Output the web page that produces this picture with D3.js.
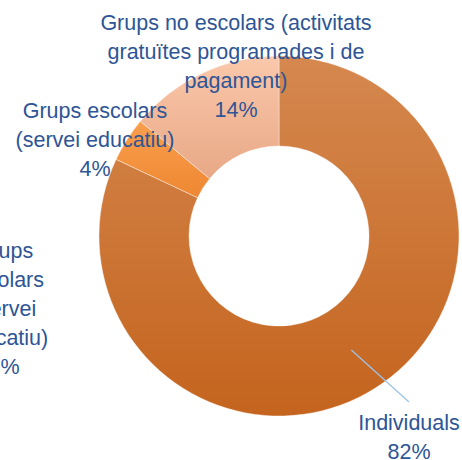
<!DOCTYPE html>
<html>
<head>
<meta charset="utf-8">
<script src="https://cdn.jsdelivr.net/npm/d3@7"></script>
<style>
  html, body { margin: 0; padding: 0; background: #fff; overflow: hidden; }
  svg { display: block; }
  text { font-family: "Liberation Sans", Arial, sans-serif; }
</style>
</head>
<body>
<svg id="chart"></svg>
<script>
const width = 462;
const height = 460;

// slices, clockwise from 12 o'clock
const categories = [
  "Individuals",
  "Grups escolars (servei educatiu)",
  "Grups no escolars (activitats gratuïtes programades i de pagament)"
];
const values = [82, 4, 14];
const labelLines = [
  ["Individuals"],
  ["Grups escolars", "(servei educatiu)"],
  ["Grups no escolars (activitats", "gratuïtes programades i de", "pagament)"]
];

// label of the neighbouring chart, cut by the left edge
const sideLines = ["Grups", "escolars", "(servei", "educatiu)"];
const sideValue = 3;

// colours: [top, bottom] of each slice gradient
const sliceColors = [
  ["#d5884f", "#c4641e"],
  ["#fa9f4e", "#ee8732"],
  ["#fac8ab", "#e8a886"]
];
const textColor = "#2e5595";
const lineHeight = 29;

// label anchors (x centre, first baseline)
const labelPos = [
  [409, 430],
  [95, 118],
  [236, 30]
];

const cx = 279, cy = 236;
const outerR = 180, innerR = 90;

const svg = d3.select("#chart").attr("width", width).attr("height", height);

const defs = svg.append("defs");
sliceColors.forEach((c, i) => {
  const g = defs.append("linearGradient")
    .attr("id", "grad" + i)
    .attr("x1", 0).attr("y1", 0).attr("x2", 0).attr("y2", 1);
  g.append("stop").attr("offset", "0%").attr("stop-color", c[0]);
  g.append("stop").attr("offset", "100%").attr("stop-color", c[1]);
});

const pie = d3.pie().sort(null).value(d => d);
const arcs = pie(values);
const arc = d3.arc().innerRadius(innerR).outerRadius(outerR);

const g = svg.append("g").attr("transform", "translate(" + cx + "," + cy + ")");

g.selectAll("path")
  .data(arcs)
  .enter()
  .append("path")
  .attr("d", arc)
  .attr("fill", (d, i) => "url(#grad" + i + ")")
  .attr("stroke", "#ffffff")
  .attr("stroke-opacity", 0.5)
  .attr("stroke-width", 0.8);

// leader line for the Individuals label
const c0 = arc.centroid(arcs[0]);
svg.append("line")
  .attr("x1", cx + c0[0])
  .attr("y1", cy + c0[1])
  .attr("x2", labelPos[0][0])
  .attr("y2", labelPos[0][1] - 28)
  .attr("stroke", "#9dc3e6")
  .attr("stroke-width", 1.3);

function drawLabel(lines, x, y) {
  const t = svg.append("text")
    .attr("text-anchor", "middle")
    .attr("fill", textColor)
    .style("font-size", "21.5px");
  lines.forEach((s, k) => {
    t.append("tspan")
      .attr("x", x)
      .attr("y", y + k * lineHeight)
      .text(s);
  });
}

arcs.forEach((d, i) => {
  drawLabel(labelLines[i].concat([values[i] + "%"]), labelPos[i][0], labelPos[i][1]);
});

drawLabel(sideLines.concat([sideValue + "%"]), 4, 258);
</script>
</body>
</html>
